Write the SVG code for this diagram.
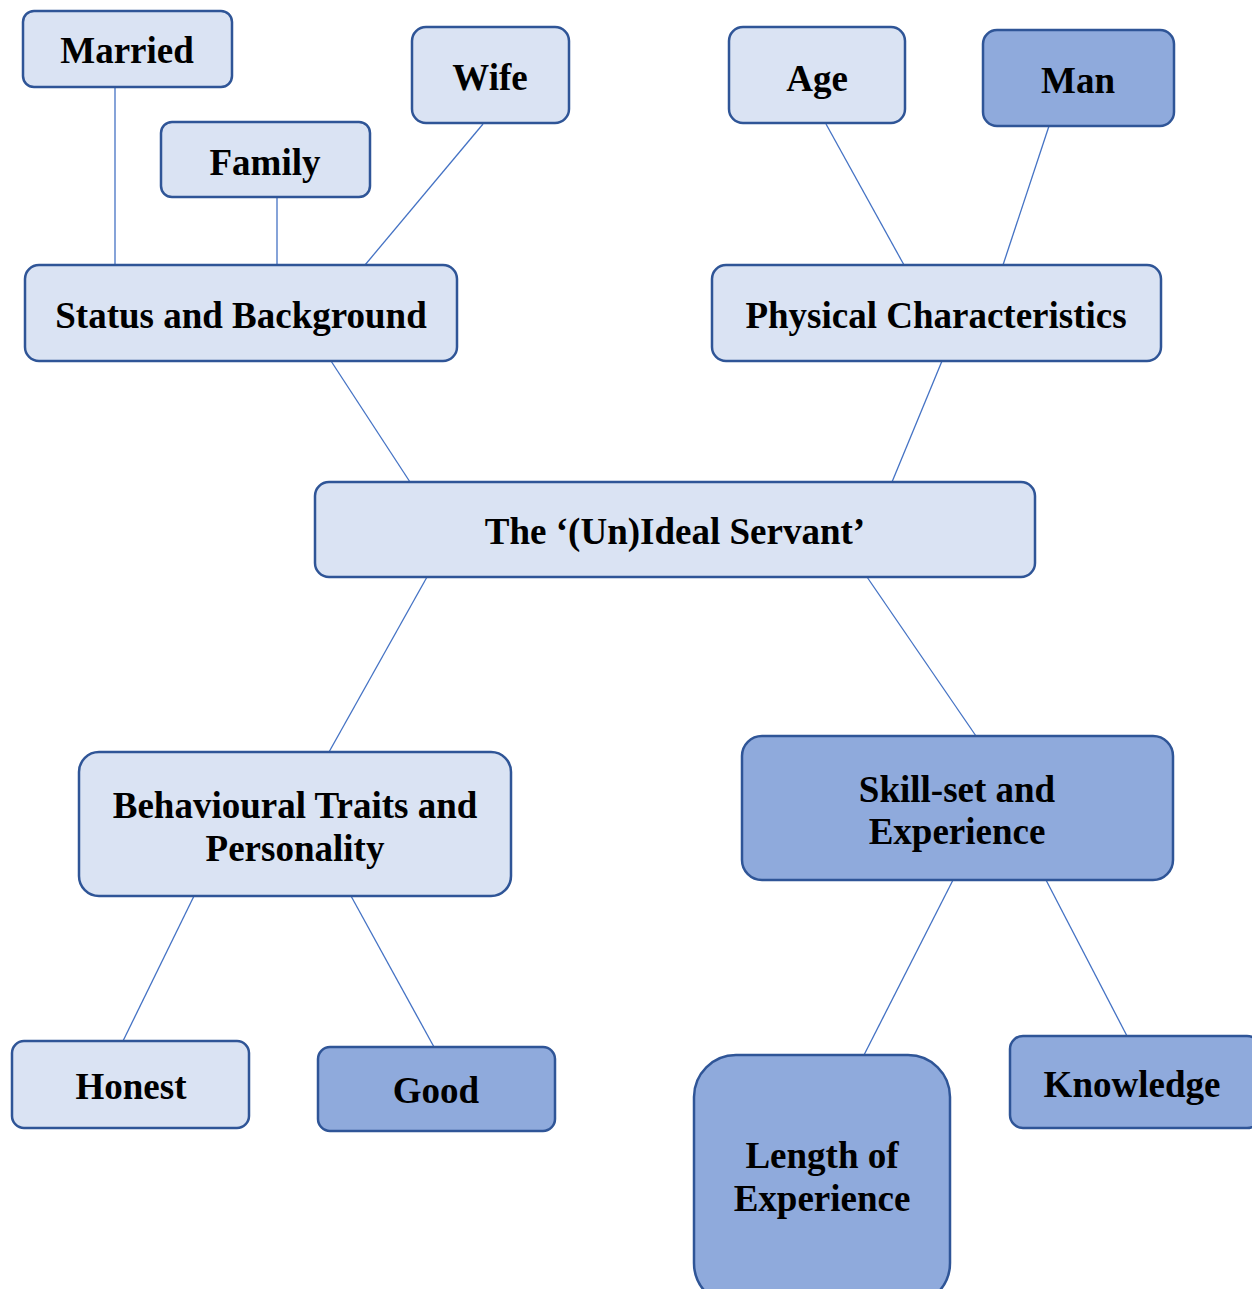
<svg xmlns="http://www.w3.org/2000/svg" width="1252" height="1289" viewBox="0 0 1252 1289">
  <style>
    .box { stroke: #2F5597; stroke-width: 2.5; }
    .light { fill: #DAE3F3; }
    .dark { fill: #8FAADC; }
    .lbl { font-family: "Liberation Serif", "Times New Roman", serif; font-weight: bold; font-size: 37px; fill: #000; text-anchor: middle; dominant-baseline: central; }
    .link { stroke: #4472C4; stroke-width: 1.3; fill: none; }
  </style>
  <rect width="1252" height="1289" fill="#fff"/>

  <g id="connectors">
    <line class="link" x1="115" y1="87" x2="115" y2="265"/>
    <line class="link" x1="277" y1="197" x2="277" y2="265"/>
    <line class="link" x1="483" y1="124" x2="365" y2="265"/>
    <line class="link" x1="331" y1="361" x2="410" y2="482"/>
    <line class="link" x1="826" y1="124" x2="904" y2="265"/>
    <line class="link" x1="1049" y1="126" x2="1002" y2="268"/>
    <line class="link" x1="942" y1="361" x2="892" y2="482"/>
    <line class="link" x1="427" y1="577" x2="329" y2="752"/>
    <line class="link" x1="867" y1="577" x2="976" y2="736"/>
    <line class="link" x1="194" y1="896" x2="123" y2="1041"/>
    <line class="link" x1="351" y1="896" x2="434" y2="1047"/>
    <line class="link" x1="953" y1="880" x2="864" y2="1055"/>
    <line class="link" x1="1046" y1="880" x2="1127" y2="1036"/>
  </g>

  <g id="married">
    <rect class="box light" x="23" y="11" width="209" height="76" rx="11"/>
    <text class="lbl" x="127" y="50">Married</text>
  </g>
  <g id="family">
    <rect class="box light" x="161" y="122" width="209" height="75" rx="11"/>
    <text class="lbl" x="265" y="162">Family</text>
  </g>
  <g id="wife">
    <rect class="box light" x="412" y="27" width="157" height="96" rx="14"/>
    <text class="lbl" x="490" y="77">Wife</text>
  </g>
  <g id="status">
    <rect class="box light" x="25" y="265" width="432" height="96" rx="14"/>
    <text class="lbl" x="241" y="315">Status and Background</text>
  </g>
  <g id="age">
    <rect class="box light" x="729" y="27" width="176" height="96" rx="14"/>
    <text class="lbl" x="817" y="78">Age</text>
  </g>
  <g id="man">
    <rect class="box dark" x="983" y="30" width="191" height="96" rx="14"/>
    <text class="lbl" x="1078" y="80">Man</text>
  </g>
  <g id="physical">
    <rect class="box light" x="712" y="265" width="449" height="96" rx="14"/>
    <text class="lbl" x="936" y="315">Physical Characteristics</text>
  </g>
  <g id="servant">
    <rect class="box light" x="315" y="482" width="720" height="95" rx="14"/>
    <text class="lbl" x="675" y="531">The ‘(Un)Ideal Servant’</text>
  </g>
  <g id="behaviour">
    <rect class="box light" x="79" y="752" width="432" height="144" rx="20"/>
    <text class="lbl" x="295" y="805">Behavioural Traits and</text>
    <text class="lbl" x="295" y="848">Personality</text>
  </g>
  <g id="skills">
    <rect class="box dark" x="742" y="736" width="431" height="144" rx="20"/>
    <text class="lbl" x="957" y="789">Skill-set and</text>
    <text class="lbl" x="957" y="831">Experience</text>
  </g>
  <g id="honest">
    <rect class="box light" x="12" y="1041" width="237" height="87" rx="12"/>
    <text class="lbl" x="131" y="1086">Honest</text>
  </g>
  <g id="good">
    <rect class="box dark" x="318" y="1047" width="237" height="84" rx="12"/>
    <text class="lbl" x="436" y="1090">Good</text>
  </g>
  <g id="length">
    <rect class="box dark" x="694" y="1055" width="256" height="250" rx="42"/>
    <text class="lbl" x="822" y="1155">Length of</text>
    <text class="lbl" x="822" y="1198">Experience</text>
  </g>
  <g id="knowledge">
    <rect class="box dark" x="1010" y="1036" width="250" height="92" rx="13"/>
    <text class="lbl" x="1132" y="1084">Knowledge</text>
  </g>
</svg>
